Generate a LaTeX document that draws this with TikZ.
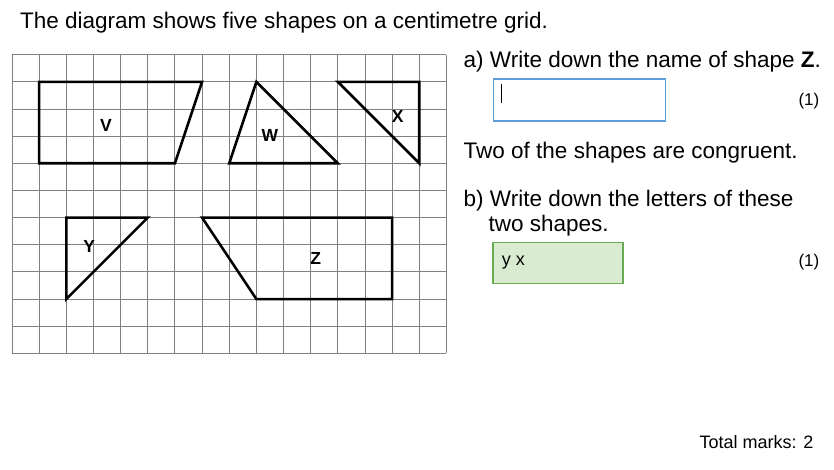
\documentclass[tikz,border=0pt]{standalone}
\usepackage{fontspec}
\setmainfont{Liberation Sans}
\usepackage{tikz}
\definecolor{gridgrey}{RGB}{128,128,128}
\definecolor{boxblue}{RGB}{91,157,213}
\definecolor{boxgreen}{RGB}{106,170,82}
\definecolor{fillgreen}{RGB}{217,236,210}

\begin{document}
\begin{tikzpicture}[x=1pt,y=-1pt,
    gridline/.style={draw=gridgrey,line width=0.9pt},
    shapeedge/.style={draw,line width=2.6pt,line join=miter},
    shapelabel/.style={font=\fontsize{17.5}{20}\selectfont\bfseries,inner sep=0pt},
    qtext/.style={font=\fontsize{22.5}{26}\selectfont,anchor=base west,inner sep=0pt},
    marks/.style={font=\fontsize{17}{20}\selectfont,anchor=base east,inner sep=0pt},
    answerbox/.style={draw,line width=1.6pt,anchor=north west,inner sep=0pt}]
		\useasboundingbox (0,0) rectangle (834,470);
		\node[qtext] (intro) at (20,28.5) {The diagram shows five shapes on a centimetre grid.};
		% the grid and the five shapes
		\begin{scope}[shift={(12,54.7)},x=27.15pt,y=-27.15pt]
			\foreach \i in {0,...,16} \draw[gridline] (\i,0) -- (\i,11);
			\foreach \j in {0,...,11} \draw[gridline] (0,\j) -- (16,\j);
			\draw[shapeedge] (1,1) -- (7,1) -- (6,4) -- (1,4) -- cycle;
			\draw[shapeedge] (9,1) -- (12,4) -- (8,4) -- cycle;
			\draw[shapeedge] (12,1) -- (15,1) -- (15,4) -- cycle;
			\draw[shapeedge] (2,6) -- (5,6) -- (2,9) -- cycle;
			\draw[shapeedge] (7,6) -- (14,6) -- (14,9) -- (9,9) -- cycle;
			\node[shapelabel] (V) at (3.46,2.61) {V};
			\node[shapelabel] (W) at (9.50,2.98) {W};
			\node[shapelabel] (X) at (14.21,2.26) {X};
			\node[shapelabel] (Y) at (2.84,7.07) {Y};
			\node[shapelabel] (Z) at (11.19,7.51) {Z};
		\end{scope}
		% part a
		\node[qtext] (qa) at (463.5,68) {a) Write down the name of shape \textbf{Z}.};
		\node[answerbox,draw=boxblue,minimum width=172pt,minimum height=41.5pt] (boxa) at (492.7,78.5) {};
		\coordinate (caret) at (501.7,84.5);
		\draw[line width=0.9pt] (caret) -- ++(0,18.5);
		\node[marks] (marka) at (819.5,106) {(1)};
		\node[qtext] (congr) at (463.5,158.5) {Two of the shapes are congruent.};
		% part b
		\node[qtext] (qb) at (463.5,207) {b) Write down the letters of these};
		\node[qtext] (qb2) at (488.5,232) {two shapes.};
		\node[answerbox,draw=boxgreen,fill=fillgreen,minimum width=130pt,minimum height=41pt] (boxb) at (492.3,241.7) {};
		\node[qtext,font=\fontsize{18}{21}\selectfont] (ansb) at (501.7,265) {y x};
		\node[marks] (markb) at (819.5,266) {(1)};
		\node[marks,font=\fontsize{18}{21}\selectfont] (total) at (813.5,448) {Total marks: 2};
\end{tikzpicture}
\end{document}
